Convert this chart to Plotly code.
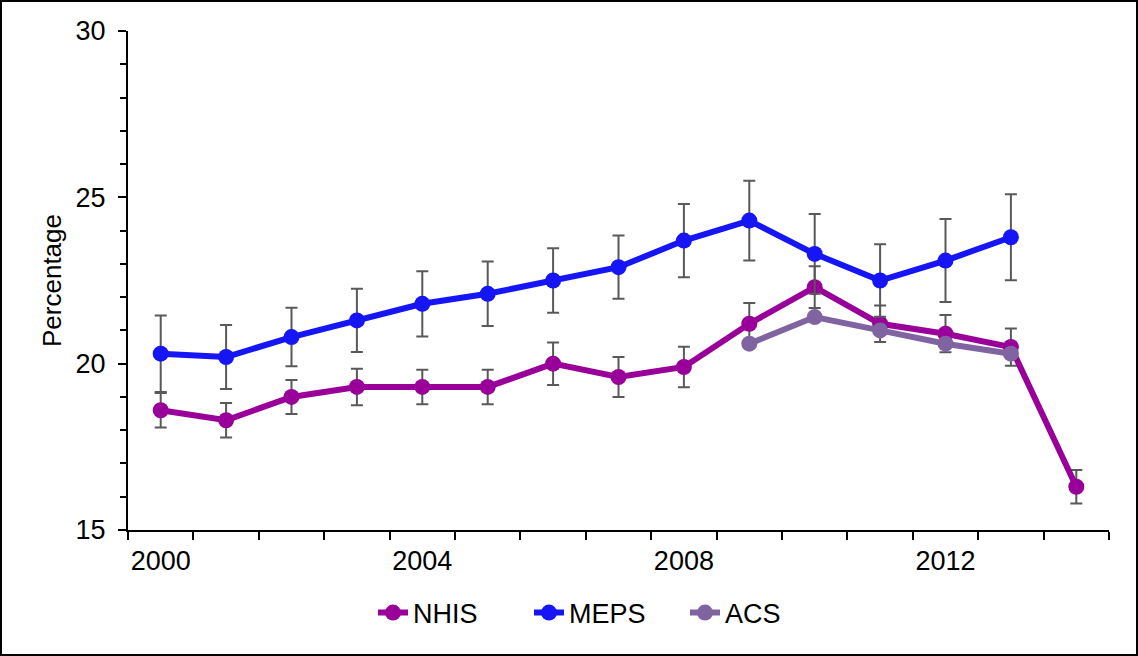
import plotly.graph_objects as go

years = list(range(2000, 2015))
nhis = [18.6, 18.3, 19.0, 19.3, 19.3, 19.3, 20.0, 19.6, 19.9, 21.2, 22.3, 21.2, 20.9, 20.5, 16.3]
nhis_err = [0.52, 0.52, 0.51, 0.55, 0.52, 0.52, 0.64, 0.60, 0.61, 0.62, 0.63, 0.55, 0.56, 0.56, 0.50]
meps_years = list(range(2000, 2014))
meps = [20.3, 20.2, 20.8, 21.3, 21.8, 22.1, 22.5, 22.9, 23.7, 24.3, 23.3, 22.5, 23.1, 23.8]
meps_err = [1.15, 0.96, 0.88, 0.95, 0.98, 0.97, 0.97, 0.95, 1.10, 1.20, 1.20, 1.09, 1.25, 1.29]
acs_years = [2009, 2010, 2011, 2012, 2013]
acs = [20.6, 21.4, 21.0, 20.6, 20.3]

x_tick_vals = [2000, 2004, 2008, 2012]
x_tick_text = ["2000", "2004", "2008", "2012"]
y_tick_vals = [15, 20, 25, 30]

FONT = "Liberation Sans, Arial, sans-serif"
ERR = dict(type="data", visible=True, color="#595959", thickness=2, width=6)

fig = go.Figure()
fig.add_trace(go.Scatter(
    x=years, y=nhis, name="NHIS", mode="lines+markers",
    line=dict(color="#990099", width=6), marker=dict(size=16, color="#990099"),
    error_y=dict(array=nhis_err, **ERR)))
fig.add_trace(go.Scatter(
    x=meps_years, y=meps, name="MEPS", mode="lines+markers",
    line=dict(color="#1515F5", width=6), marker=dict(size=16, color="#1515F5"),
    error_y=dict(array=meps_err, **ERR)))
fig.add_trace(go.Scatter(
    x=acs_years, y=acs, name="ACS", mode="lines+markers",
    line=dict(color="#8064A2", width=6), marker=dict(size=16, color="#8064A2")))

pw, ph = 1138, 656
l, r, t, b = 128, 29, 31, 126
W = pw - l - r
H = ph - t - b

def px(xp):
    return (xp - l) / W

def py(yp):
    return (ph - b - yp) / H

fig.add_shape(type="rect", xref="paper", yref="paper",
              x0=px(1), x1=px(1137), y0=py(655), y1=py(1),
              line=dict(color="black", width=2), fillcolor="rgba(0,0,0,0)")

fig.update_layout(
    width=pw, height=ph,
    margin=dict(l=l, r=r, t=t, b=b),
    paper_bgcolor="white", plot_bgcolor="white",
    font=dict(family=FONT, size=27, color="black"),
    showlegend=True,
    legend=dict(orientation="h", x=px(373), xanchor="left", y=py(613), yanchor="middle",
                font=dict(size=27), entrywidth=111, entrywidthmode="pixels",
                traceorder="normal"),
    xaxis=dict(range=[1999.5, 2014.5], tickmode="array", tickvals=x_tick_vals, ticktext=x_tick_text,
               ticks="", showline=True, linecolor="black", linewidth=2, showgrid=False, zeroline=False,
               ticklabelstandoff=6,
               minor=dict(tickmode="linear", tick0=1999.5, dtick=1, ticks="outside", ticklen=8,
                          tickwidth=2, tickcolor="black", showgrid=False)),
    yaxis=dict(range=[15, 30], tickmode="array", tickvals=y_tick_vals, ticks="outside", ticklen=8,
               tickwidth=2, tickcolor="black", showline=True, linecolor="black", linewidth=2,
               showgrid=False, zeroline=False, ticklabelstandoff=7,
               title=dict(text="Percentage", font=dict(size=26), standoff=6),
               minor=dict(tickmode="linear", tick0=15, dtick=1, ticks="outside", ticklen=6,
                          tickwidth=2, tickcolor="black", showgrid=False)),
)

fig.write_html("out.html", config={"displayModeBar": False},
               post_script="document.body.style.margin='0';document.body.style.padding='0';")
